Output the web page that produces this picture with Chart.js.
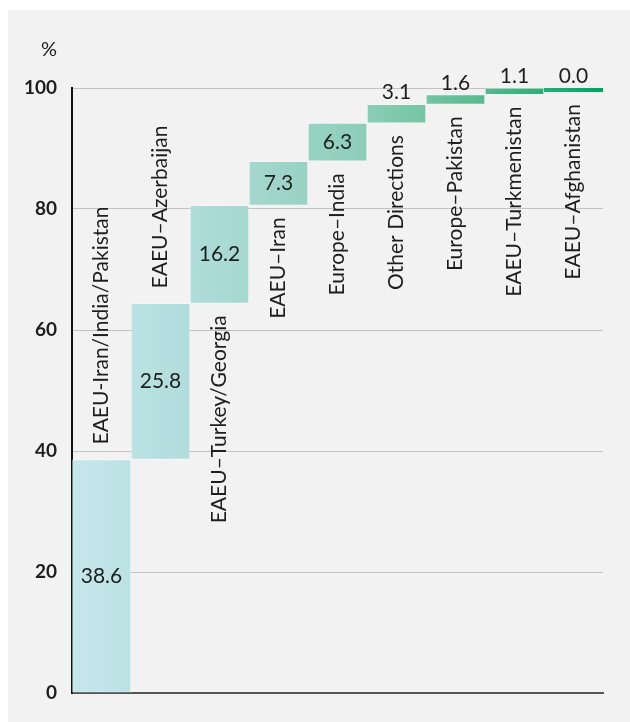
<!DOCTYPE html>
<html>
<head>
<meta charset="utf-8">
<script src="https://cdn.jsdelivr.net/npm/chart.js@4"></script>
<style>
  html, body { margin: 0; padding: 0; background: #fff; }
  #panel { position: absolute; left: 8px; top: 10px; width: 622px; height: 712px; background: #f2f2f2; }
</style>
</head>
<body>
<div id="panel"><canvas id="myChart" width="622" height="712"></canvas></div>
<script>
// routes and their share of the total, %
const categories = ['EAEU-Iran/India/Pakistan', 'EAEU–Azerbaijan', 'EAEU–Turkey/Georgia', 'EAEU–Iran', 'Europe–India', 'Other Directions', 'Europe–Pakistan', 'EAEU–Turkmenistan', 'EAEU–Afghanistan'];
const shares = [38.6, 25.8, 16.2, 7.3, 6.3, 3.1, 1.6, 1.1, 0.0];
const yTicks = [0, 20, 40, 60, 80, 100];

// waterfall: each bar floats from the running total to the next one
let ranges = [];
let total = 0;
for (let i = 0; i < shares.length; i++) {
  const start = total;
  total = Math.round((total + shares[i]) * 10) / 10;
  ranges.push([start, total]);
}

let gradient = null;
let gradientWidth = 0;
function barGradient(chart) {
  const area = chart.chartArea;
  if (!area) return '#a6d8d0';
  if (!gradient || gradientWidth !== area.width) {
    gradient = chart.ctx.createLinearGradient(area.left, 0, area.right, 0);
    gradient.addColorStop(0, '#c6e7ec');
    gradient.addColorStop(0.22, '#b0dddb');
    gradient.addColorStop(0.33, '#a5d8cf');
    gradient.addColorStop(0.55, '#8ccdb8');
    gradient.addColorStop(0.67, '#74c4a2');
    gradient.addColorStop(0.78, '#56b88d');
    gradient.addColorStop(0.89, '#2aae77');
    gradient.addColorStop(1, '#00a562');
    gradientWidth = area.width;
  }
  return gradient;
}

const textColor = '#1e1e1e';

const barLabels = {
  id: 'barLabels',
  afterDatasetsDraw(chart) {
    const ctx = chart.ctx;
    const bars = chart.getDatasetMeta(0).data;
    const area = chart.chartArea;
    ctx.save();

    // unit sign above the axis
    ctx.fillStyle = textColor;
    ctx.font = '20px Lato';
    ctx.textAlign = 'center';
    ctx.textBaseline = 'middle';
    ctx.fillText('%', area.left - 23, area.top - 38);

    bars.forEach((bar, i) => {
      let top = Math.min(bar.y, bar.base);
      let bottom = Math.max(bar.y, bar.base);

      // a zero share still gets a thin strip
      if (bottom - top < 1) {
        ctx.fillStyle = barGradient(chart);
        ctx.fillRect(bar.x - bar.width / 2, top, bar.width, 4);
        bottom = top + 4;
      }
      const h = bottom - top;

      ctx.fillStyle = textColor;
      ctx.font = '21px Lato';
      ctx.textAlign = 'center';
      const value = shares[i].toFixed(1);
      if (h > 30) {
        ctx.textBaseline = 'middle';
        ctx.fillText(value, bar.x, (top + bottom) / 2);
      } else {
        ctx.textBaseline = 'alphabetic';
        ctx.fillText(value, bar.x, top - 5);
      }

      // route name, vertical, above tall bars and under short ones
      ctx.save();
      ctx.font = '21px Lato';
      ctx.textBaseline = 'middle';
      if (shares[i] > 20) {
        ctx.translate(bar.x, top - 15);
        ctx.rotate(-Math.PI / 2);
        ctx.textAlign = 'left';
      } else {
        ctx.translate(bar.x, bottom + 12);
        ctx.rotate(-Math.PI / 2);
        ctx.textAlign = 'right';
      }
      ctx.fillText(categories[i], 0, 0);
      ctx.restore();
    });
    ctx.restore();
  }
};

const ctx = document.getElementById('myChart').getContext('2d');
const myChart = new Chart(ctx, {
  type: 'bar',
  data: {
    labels: categories,
    datasets: [{
      label: 'Share',
      data: ranges,
      backgroundColor: c => barGradient(c.chart),
      borderColor: 'rgba(255,255,255,0.3)',
      borderWidth: 1,
      borderSkipped: false,
      barPercentage: 1,
      categoryPercentage: 1
    }]
  },
  options: {
    responsive: false,
    animation: false,
    layout: { padding: { left: 0, top: 78, right: 27, bottom: 29 } },
    plugins: {
      legend: { display: false },
      tooltip: { enabled: false }
    },
    scales: {
      x: {
        ticks: { display: false },
        grid: { display: false, drawTicks: false },
        border: { color: '#555', width: 2 },
        afterFit: scale => { scale.height = 0; }
      },
      y: {
        min: 0,
        max: 100,
        afterBuildTicks: scale => { scale.ticks = yTicks.map(v => ({ value: v })); },
        afterFit: scale => {
          scale.width = 64;
          scale.paddingTop = 0;
          scale.paddingBottom = 0;
        },
        ticks: {
          font: { family: 'Lato', size: 19, weight: 'bold' },
          color: textColor,
          padding: 15
        },
        grid: { color: '#c2c2c2', lineWidth: 1, drawTicks: false },
        border: { color: '#111', width: 2 }
      }
    }
  },
  plugins: [barLabels]
});
</script>
</body>
</html>
